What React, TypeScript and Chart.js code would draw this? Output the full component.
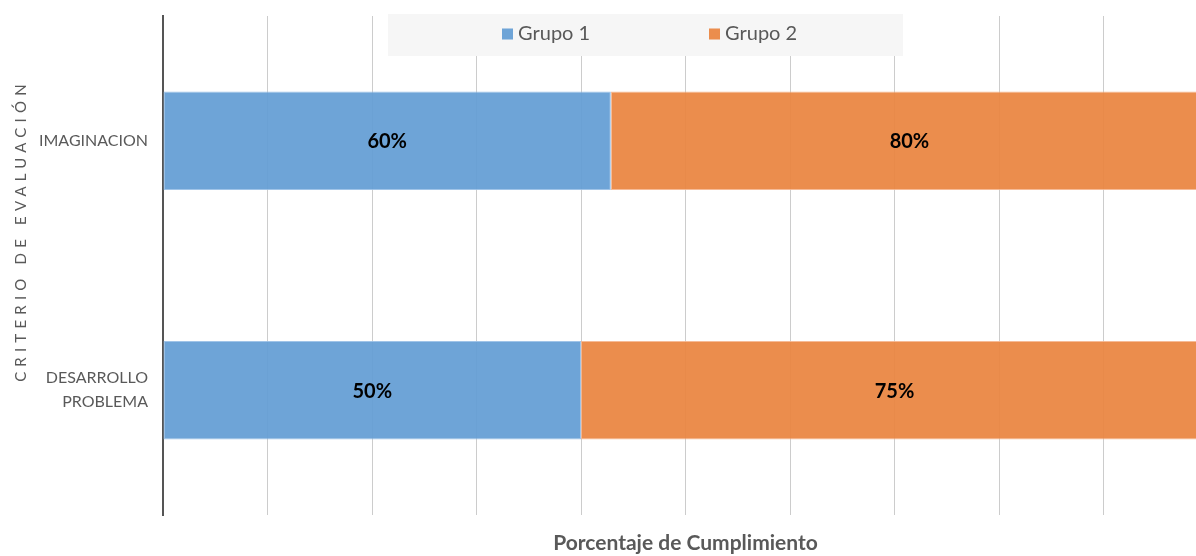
import React, { useEffect, useRef } from "react";
import { Chart, registerables } from "chart.js";

Chart.register(...registerables);

// ---- data ----
const categories: string[][] = [["IMAGINACION"], ["DESARROLLO", "PROBLEMA"]];
const seriesNames: string[] = ["Grupo 1", "Grupo 2"];
const grupo1: number[] = [60, 50];
const grupo2: number[] = [80, 75];
const xTickValues: number[] = [0, 10, 20, 30, 40, 50, 60, 70, 80, 90, 100];
const xTitle = "Porcentaje de Cumplimiento";
const yTitle = "CRITERIO DE EVALUACIÓN";

const FONT = "Lato, 'Noto Sans', sans-serif";
const TEXT_COLOR = "#595959";
const COLORS = ["rgba(99,157,212,0.93)", "rgba(234,132,63,0.93)"];
const BORDERS = ["rgba(150,190,230,0.9)", "rgba(245,180,140,0.9)"];

const rawSeries = [grupo1, grupo2];
const shares = rawSeries.map((s) =>
  s.map((v, i) => (v / (grupo1[i] + grupo2[i])) * 100)
);

const valueLabels = {
  id: "valueLabels",
  afterDatasetsDraw(chart: any) {
    const ctx = chart.ctx;
    ctx.save();
    ctx.font = `bold 20px ${FONT}`;
    ctx.fillStyle = "#000000";
    ctx.textAlign = "center";
    ctx.textBaseline = "middle";
    chart.data.datasets.forEach((ds: any, di: number) => {
      const meta = chart.getDatasetMeta(di);
      meta.data.forEach((bar: any, i: number) => {
        const x = (bar.x + bar.base) / 2;
        ctx.fillText(`${rawSeries[di][i]}%`, x, bar.y + 1);
      });
    });
    ctx.restore();
  },
};

const customLegend = {
  id: "customLegend",
  afterDraw(chart: any) {
    const ctx = chart.ctx;
    const boxLeft = 388;
    const boxTop = 14;
    const boxW = 515;
    const boxH = 42;
    ctx.save();
    ctx.fillStyle = "#f6f6f6";
    ctx.fillRect(boxLeft, boxTop, boxW, boxH);
    const starts = [502, 709];
    ctx.font = `20px ${FONT}`;
    ctx.textBaseline = "middle";
    ctx.textAlign = "left";
    const cy = boxTop + boxH / 2 - 1;
    chart.data.datasets.forEach((ds: any, i: number) => {
      const x = starts[i];
      ctx.fillStyle = ds.backgroundColor;
      ctx.fillRect(x, cy - 5.5, 11, 11);
      ctx.fillStyle = TEXT_COLOR;
      ctx.fillText(ds.label, x + 16, cy);
    });
    ctx.restore();
  },
};

const yTitlePlugin = {
  id: "yTitlePlugin",
  afterDraw(chart: any) {
    const ctx = chart.ctx;
    ctx.save();
    ctx.translate(21, 233);
    ctx.rotate(-Math.PI / 2);
    ctx.font = `15px ${FONT}`;
    (ctx as any).letterSpacing = "5.2px";
    ctx.fillStyle = TEXT_COLOR;
    ctx.textAlign = "center";
    ctx.textBaseline = "middle";
    ctx.fillText(yTitle, 2.5, 0);
    ctx.restore();
  },
};

export default function App() {
  const ref = useRef<HTMLCanvasElement | null>(null);

  useEffect(() => {
    if (!ref.current) return;
    const chart = new Chart(ref.current, {
      type: "bar",
      data: {
        labels: categories,
        datasets: seriesNames.map((name, i) => ({
          label: name,
          data: shares[i],
          backgroundColor: COLORS[i],
          borderColor: BORDERS[i],
          borderWidth: 1,
          borderSkipped: false,
          categoryPercentage: 0.395,
          barPercentage: 1,
        })),
      },
      options: {
        indexAxis: "y",
        animation: false,
        responsive: true,
        maintainAspectRatio: false,
        layout: { padding: { top: 16, right: 2, left: 0, bottom: 0 } },
        plugins: {
          legend: { display: false },
          tooltip: { enabled: false },
          title: { display: false },
        },
        scales: {
          x: {
            stacked: true,
            min: 0,
            max: 100,
            afterBuildTicks: (scale: any) => {
              scale.ticks = xTickValues.map((v) => ({ value: v }));
            },
            afterFit: (scale: any) => {
              scale.height = 41;
              scale.paddingLeft = 0;
              scale.paddingRight = 0;
            },
            ticks: { display: false },
            grid: {
              color: "#cccccc",
              lineWidth: 1,
              drawTicks: false,
            },
            border: { display: false },
            title: {
              display: true,
              text: xTitle,
              color: TEXT_COLOR,
              font: { family: FONT, size: 21, weight: "bold" },
              padding: 0,
            },
          },
          y: {
            stacked: true,
            afterFit: (scale: any) => {
              scale.width = 163;
              scale.paddingTop = 0;
              scale.paddingBottom = 0;
            },
            ticks: {
              color: TEXT_COLOR,
              font: { family: FONT, size: 16, lineHeight: 1.5 },
              padding: 15,
            },
            grid: { display: false, drawTicks: false },
            border: { display: true, color: "#555555", width: 2 },
          },
        },
      },
      plugins: [valueLabels, customLegend, yTitlePlugin],
    });
    return () => chart.destroy();
  }, []);

  return (
    <div
      style={{
        position: "absolute",
        left: 0,
        top: 0,
        width: 1196,
        height: 556,
        overflow: "hidden",
        background: "#ffffff",
      }}
    >
      <div style={{ position: "relative", width: 1210, height: 556 }}>
        <canvas ref={ref} />
      </div>
    </div>
  );
}
